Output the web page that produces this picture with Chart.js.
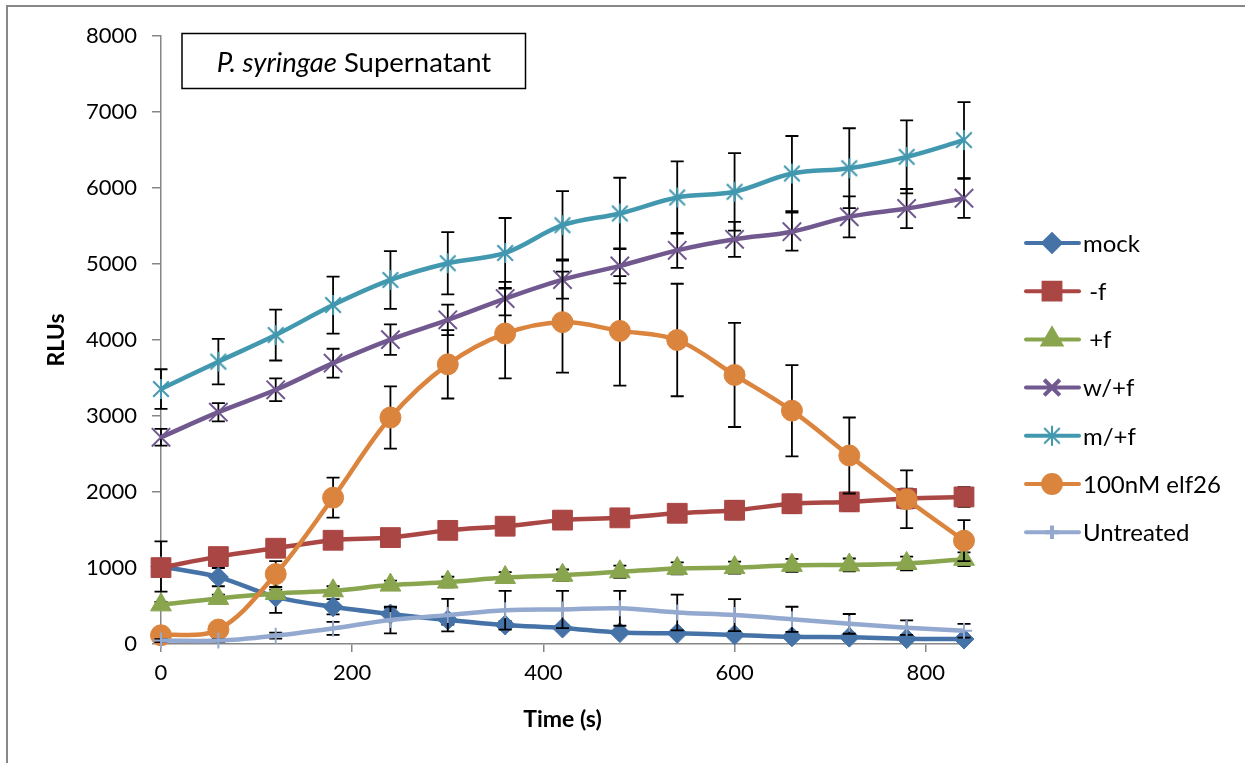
<!DOCTYPE html>
<html>
<head>
<meta charset="utf-8">
<script src="https://cdn.jsdelivr.net/npm/chart.js@4.4.0/dist/chart.umd.min.js"></script>
<style>
  html, body { margin: 0; background: #fff; }
  #wrap { width: 1245px; height: 763px; position: relative; }
</style>
</head>
<body>
<div id="wrap"><canvas id="chart"></canvas></div>
<script>
// ---- data ----
const times = [0, 60, 120, 180, 240, 300, 360, 420, 480, 540, 600, 660, 720, 780, 840];
const yTicks = [0, 1000, 2000, 3000, 4000, 5000, 6000, 7000, 8000];
const xTicks = [0, 200, 400, 600, 800];
const seriesNames = ['mock', ' -f', ' +f', 'w/+f', 'm/+f', '100nM elf26', 'Untreated'];

const mock      = [1020, 880, 620, 490, 395, 316, 250, 210, 150, 140, 120, 95, 90, 70, 65];
const minusF    = [1005, 1150, 1260, 1365, 1400, 1495, 1550, 1630, 1660, 1720, 1760, 1845, 1870, 1915, 1935];
const plusF     = [515, 600, 665, 700, 775, 815, 875, 905, 950, 995, 1005, 1035, 1040, 1060, 1115];
const wPlusF    = [2720, 3050, 3345, 3695, 4005, 4265, 4545, 4795, 4975, 5180, 5325, 5425, 5620, 5730, 5865];
const mPlusF    = [3355, 3715, 4065, 4460, 4790, 5010, 5145, 5510, 5665, 5875, 5950, 6190, 6260, 6410, 6630];
const elf26     = [115, 190, 920, 1925, 2980, 3680, 4085, 4235, 4120, 4000, 3540, 3070, 2480, 1905, 1360];
const untreated = [45, 45, 110, 205, 316, 380, 445, 455, 470, 415, 380, 325, 265, 215, 175];

// error bar half-lengths
const mockErr      = [330, 120, 210, 100, 80, 60, 50, 40, 30, 30, 25, 20, 20, 15, 15];
const minusFErr    = [60, 70, 80, 90, 90, 100, 100, 110, 110, 110, 120, 120, 120, 130, 130];
const plusFErr     = [40, 50, 50, 60, 60, 70, 70, 75, 80, 80, 80, 85, 85, 90, 90];
const wPlusFErr    = [110, 120, 150, 190, 200, 200, 220, 250, 230, 230, 230, 250, 270, 257, 257];
const mPlusFErr    = [260, 300, 335, 375, 380, 410, 460, 450, 470, 475, 510, 494, 526, 480, 500];
const elf26Err     = [50, 60, 170, 263, 410, 450, 590, 665, 720, 740, 685, 600, 500, 380, 270];
const untreatedErr = [20, 20, 40, 85, 175, 215, 255, 245, 230, 235, 210, 165, 130, 95, 90];

const FONT = 'Lato';

// Excel style asterisk marker (X plus vertical stroke)
function asterisk(color, size) {
  const c = document.createElement('canvas');
  c.width = c.height = size;
  const g = c.getContext('2d');
  const m = size / 2, r = size / 2 - 1, d = r * 0.78;
  g.strokeStyle = color;
  g.lineWidth = 2;
  g.beginPath();
  g.moveTo(m, m - r); g.lineTo(m, m + r);
  g.moveTo(m - d, m - d); g.lineTo(m + d, m + d);
  g.moveTo(m + d, m - d); g.lineTo(m - d, m + d);
  g.stroke();
  return c;
}

const styles = [
  { color: '#4572A7', point: 'rectRot',  radius: 10,   bw: 1 },
  { color: '#AA4643', point: 'rect',     radius: 14,   bw: 1 },
  { color: '#89A54E', point: 'triangle', radius: 12,   bw: 1 },
  { color: '#71588F', point: 'crossRot', radius: 13,   bw: 2 },
  { color: '#4198AF', point: asterisk('#4198AF', 22), radius: 11, bw: 2 },
  { color: '#DB843D', point: 'circle',   radius: 10.5, bw: 1 },
  { color: '#93A9CF', point: 'cross',    radius: 8,    bw: 2 }
];

const values = [mock, minusF, plusF, wPlusF, mPlusF, elf26, untreated];
const errors = [mockErr, minusFErr, plusFErr, wPlusFErr, mPlusFErr, elf26Err, untreatedErr];

const datasets = values.map((vals, i) => ({
  label: seriesNames[i],
  data: vals.map((v, k) => ({ x: times[k], y: v })),
  borderColor: styles[i].color,
  backgroundColor: styles[i].color,
  borderWidth: 4.5,
  tension: 0.35,
  pointStyle: styles[i].point,
  pointRadius: styles[i].radius,
  pointBorderWidth: styles[i].bw,
  pointBorderColor: styles[i].color,
  pointBackgroundColor: styles[i].color,
  clip: false,
  order: values.length - i
}));

// error bars, drawn just under each series
const errorBars = {
  id: 'errorBars',
  beforeDatasetDraw(chart, args) {
    const i = args.index;
    const err = errors[i];
    const { ctx, scales: { x, y } } = chart;
    ctx.save();
    ctx.strokeStyle = '#000';
    ctx.lineWidth = 1.8;
    values[i].forEach((v, k) => {
      const px = x.getPixelForValue(times[k]);
      const top = y.getPixelForValue(v + err[k]);
      const bot = y.getPixelForValue(v - err[k]);
      ctx.beginPath();
      ctx.moveTo(px, top); ctx.lineTo(px, bot);
      ctx.moveTo(px - 6.5, top); ctx.lineTo(px + 6.5, top);
      ctx.moveTo(px - 6.5, bot); ctx.lineTo(px + 6.5, bot);
      ctx.stroke();
    });
    ctx.restore();
  }
};

// frame, title box and legend
const decorations = {
  id: 'decorations',
  afterDraw(chart) {
    const ctx = chart.ctx;
    ctx.save();
    // outer frame (left and top edges visible)
    ctx.strokeStyle = '#888';
    ctx.lineWidth = 2;
    ctx.beginPath();
    ctx.moveTo(7, 763); ctx.lineTo(7, 6); ctx.lineTo(1245, 6);
    ctx.stroke();

    // title box
    ctx.strokeStyle = '#000';
    ctx.lineWidth = 1.5;
    ctx.strokeRect(182, 33.5, 343.5, 55);
    const italic = 'italic 27.5px ' + FONT, normal = '27.5px ' + FONT;
    ctx.font = italic;
    const w1 = ctx.measureText('P. syringae').width;
    ctx.font = normal;
    const w2 = ctx.measureText(' Supernatant').width;
    let tx = 354 - (w1 + w2) / 2;
    ctx.fillStyle = '#000';
    ctx.textBaseline = 'alphabetic';
    ctx.textAlign = 'left';
    ctx.font = italic;
    ctx.fillText('P. syringae', tx, 71.5);
    ctx.font = normal;
    ctx.fillText(' Supernatant', tx + w1, 71.5);

    // legend
    chart.data.datasets.forEach((ds, i) => {
      const ly = 243 + i * 48.2;
      const st = styles[i];
      ctx.strokeStyle = st.color;
      ctx.lineWidth = 4;
      ctx.lineCap = 'round';
      ctx.beginPath();
      ctx.moveTo(1026, ly); ctx.lineTo(1079, ly);
      ctx.stroke();
      ctx.lineCap = 'butt';
      ctx.fillStyle = st.color;
      Chart.helpers.drawPoint(ctx, {
        pointStyle: st.point,
        radius: st.radius * 0.85,
        borderWidth: st.bw,
        rotation: 0
      }, 1052, ly);
      ctx.fillStyle = '#000';
      ctx.font = '24px ' + FONT;
      ctx.textBaseline = 'middle';
      ctx.fillText(ds.label, 1083, ly + 1);
    });
    ctx.restore();
  }
};

const tickFont = { family: FONT, size: 22 };
const titleFont = { family: FONT, size: 23, weight: 'bold' };

new Chart(document.getElementById('chart'), {
  type: 'line',
  data: { datasets },
  plugins: [errorBars, decorations],
  options: {
    responsive: true,
    maintainAspectRatio: false,
    animation: false,
    layout: { padding: { top: 36, right: 281, left: 0, bottom: 0 } },
    plugins: { legend: { display: false }, tooltip: { enabled: false } },
    scales: {
      x: {
        type: 'linear',
        min: times[0],
        max: times[times.length - 1],
        afterBuildTicks: axis => { axis.ticks = xTicks.map(v => ({ value: v })); },
        afterFit: scale => { scale.height = 119; },
        ticks: { color: '#000', font: tickFont, padding: 8, maxRotation: 0, callback: v => String(v) },
        grid: { drawOnChartArea: false, tickLength: 8, color: '#868686', lineWidth: 1.5 },
        border: { color: '#868686', width: 1.5 },
        title: { display: true, text: 'Time (s)', color: '#000', font: titleFont, padding: { top: 0, bottom: 30 } }
      },
      y: {
        min: yTicks[0],
        max: yTicks[yTicks.length - 1],
        afterBuildTicks: axis => { axis.ticks = yTicks.map(v => ({ value: v })); },
        afterFit: scale => { scale.width = 161; },
        ticks: { color: '#000', font: tickFont, padding: 15, callback: v => String(v) },
        grid: { drawOnChartArea: false, tickLength: 9, color: '#868686', lineWidth: 1.5 },
        border: { color: '#868686', width: 1.5 },
        title: { display: true, text: 'RLUs', color: '#000', font: titleFont, padding: { top: 43, bottom: 0 } }
      }
    }
  }
});
</script>
</body>
</html>
